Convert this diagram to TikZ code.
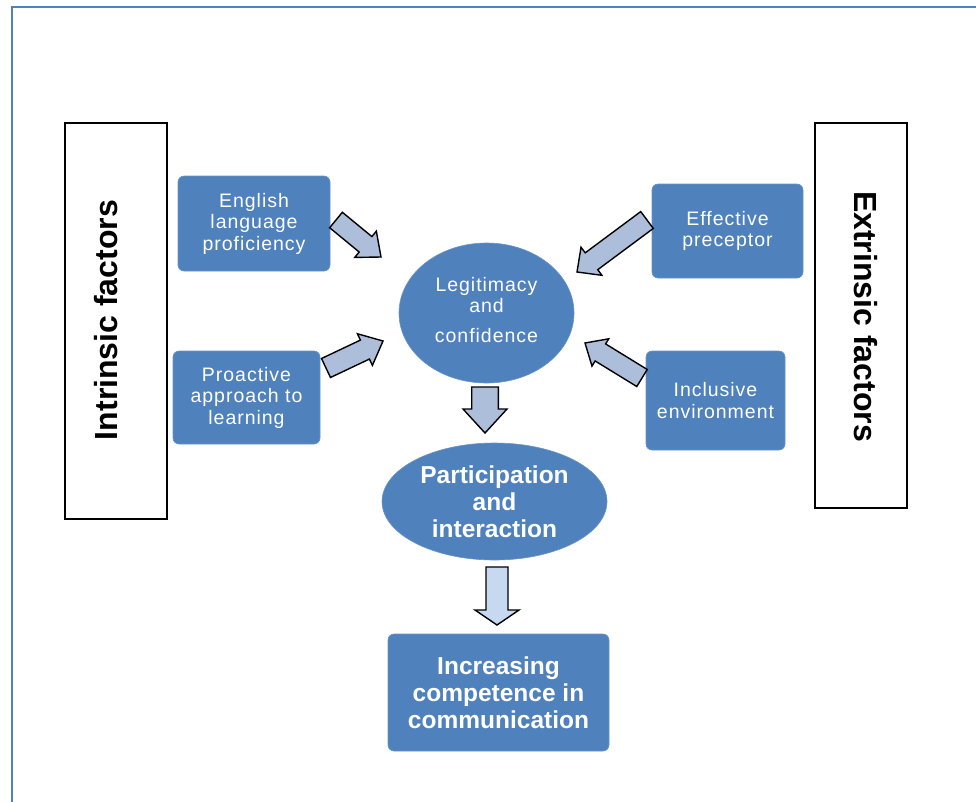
\documentclass[tikz,border=0pt]{standalone}
\usepackage{fontspec}
\setmainfont{Liberation Sans}
\newfontfamily\spaced{Liberation Sans}[LetterSpace=5]
\usetikzlibrary{calc,shapes.geometric}
\definecolor{boxblue}{RGB}{79,129,189}
\definecolor{arrfill}{RGB}{173,190,219}
\definecolor{arrfilllight}{RGB}{198,217,241}
\tikzset{
  bluebox/.style={rectangle, rounded corners=6pt, fill=boxblue, draw=boxblue!85!white, line width=0.6pt, text=white, align=center, inner sep=0pt},
  blueoval/.style={ellipse, fill=boxblue, draw=boxblue!85!white, line width=0.6pt, text=white, align=center, inner sep=0pt},
  smalltxt/.style={font=\spaced\fontsize{19.5}{21.5}\selectfont},
  bigtxt/.style={font=\bfseries\fontsize{24.5}{27}\selectfont},
  sidebox/.style={rectangle, draw=black, line width=1.8pt, fill=white},
  sidetxt/.style={font=\bfseries\fontsize{32}{36}\selectfont, inner sep=0pt},
  blockarr/.style={draw=black, line width=1.4pt, fill=arrfill, line join=miter},
}
% #2 tail, #3 tip, #4 half shaft, #5 half head, #6 head length
\newcommand\barrow[6][]{%
  \draw[blockarr,#1] let \p1=(#2), \p2=(#3),
    \n1={atan2(\y2-\y1,\x2-\x1)}, \n2={veclen(\x2-\x1,\y2-\y1)-#6pt} in
    ($(\p1)+(\n1+90:#4pt)$) --
    ($(\p1)+(\n1:\n2)+(\n1+90:#4pt)$) --
    ($(\p1)+(\n1:\n2)+(\n1+90:#5pt)$) --
    (\p2) --
    ($(\p1)+(\n1:\n2)+(\n1-90:#5pt)$) --
    ($(\p1)+(\n1:\n2)+(\n1-90:#4pt)$) --
    ($(\p1)+(\n1-90:#4pt)$) -- cycle;
}
\begin{document}
\begin{tikzpicture}[x=1pt,y=-1pt]
\useasboundingbox (0,0) rectangle (976,801);
\fill[white] (0,0) rectangle (976,801);
% outer frame (cut by page edges)
\draw[boxblue, line width=2.5pt] (12,805) -- (12,7) -- (980,7);

% side boxes
\node[sidebox, minimum width=102pt, minimum height=396pt] (lbox) at (116,321) {};
\node[sidetxt, rotate=90] (ltxt) at (106,320) {Intrinsic factors};
\node[sidebox, minimum width=92pt, minimum height=385pt] (rbox) at (861,315.5) {};
\node[sidetxt, rotate=-90] (rtxt) at (866,316.5) {Extrinsic factors};

% blue boxes
\node[bluebox, smalltxt, minimum width=152pt, minimum height=95pt] (eng) at (254,223.5) {English\\language\\proficiency};
\node[bluebox, smalltxt, minimum width=147pt, minimum height=93pt] (pro) at (246.5,397.5) {Proactive\\approach to\\learning};
\node[bluebox, smalltxt, minimum width=151pt, minimum height=94pt] (eff) at (727.5,231) {Effective\\preceptor};
\node[bluebox, smalltxt, minimum width=139pt, minimum height=99pt] (inc) at (715.5,400.5) {Inclusive\\environment};
\node[blueoval, smalltxt, minimum width=175pt, minimum height=140pt] (leg) at (486.5,313) {};
\node[smalltxt, text=white, align=center, inner sep=0pt] (legt) at (486.5,310) {Legitimacy\\and\\[8pt]confidence};
\node[blueoval, bigtxt, minimum width=225pt, minimum height=117pt] (par) at (494.5,501.5) {Participation\\and\\interaction};
\node[bluebox, bigtxt, minimum width=221pt, minimum height=117pt] (comp) at (498.5,692.5) {Increasing\\competence in\\communication};

% arrow end points
\coordinate (a1s) at (336,220);  \coordinate (a1t) at (381,257);
\coordinate (a2s) at (326,368);  \coordinate (a2t) at (383,341);
\coordinate (a3s) at (647,220);  \coordinate (a3t) at (577,272);
\coordinate (a4s) at (642,378);  \coordinate (a4t) at (585,343);
\coordinate (a5s) at (485,387);  \coordinate (a5t) at (485,433);
\coordinate (a6s) at (497,567);  \coordinate (a6t) at (497,625);

\barrow{a1s}{a1t}{10}{17}{20}
\barrow{a2s}{a2t}{10.5}{17.5}{20}
\barrow{a3s}{a3t}{10.5}{17.5}{18}
\barrow{a4s}{a4t}{10}{16}{18}
\barrow{a5s}{a5t}{13.3}{22}{24}
\barrow[fill=arrfilllight]{a6s}{a6t}{11}{22}{15}
\end{tikzpicture}
\end{document}
